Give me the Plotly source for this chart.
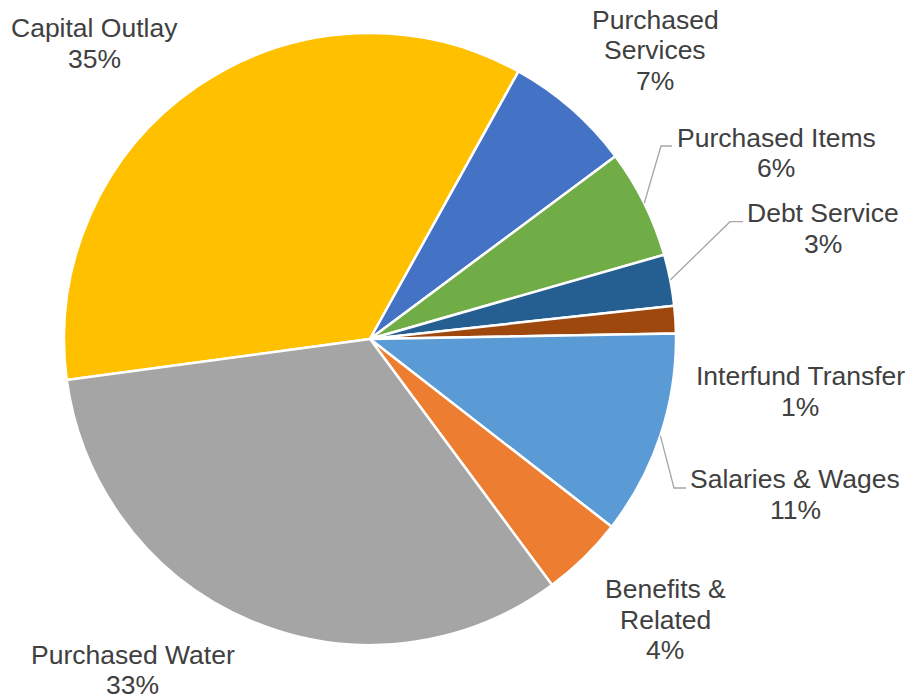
import math
import plotly.graph_objects as go

# ---- data ----
categories = ["Capital Outlay", "Purchased Services", "Purchased Items", "Debt Service",
              "Interfund Transfer", "Salaries & Wages", "Benefits & Related", "Purchased Water"]
values = [35.2, 6.75, 5.75, 2.7, 1.45, 10.8, 4.35, 33.0]
label_lines = [["Capital Outlay"], ["Purchased", "Services"], ["Purchased Items"], ["Debt Service"],
               ["Interfund Transfer"], ["Salaries & Wages"], ["Benefits &", "Related"], ["Purchased Water"]]
colors = ["#FFC000", "#4472C4", "#70AD47", "#255E91", "#9E480E", "#5B9BD5", "#ED7D31", "#A5A5A5"]

# ---- layout (pixels) ----
W, H = 911, 695
CX, CY, R = 370, 339, 306
START = 262.3
LINE_H = 30.7
FONT = "Liberation Sans, Arial, sans-serif"
TXT = "#404040"

label_pos = [(94.5, 28), (655, 19.7), (776, 137.5), (822.7, 213),
             (800.4, 376), (795, 479), (665, 589), (132.5, 654.5)]
# leader lines: index -> (elbow, end)
leaders = {2: ((661, 146), (672, 146)),
           3: ((730, 221.7), (743, 221.7)),
           5: ((674, 488), (686, 488))}


def px(x):
    return x / W


def py(y):
    return 1 - y / H


total = sum(values)
fig = go.Figure(go.Pie(
    labels=categories, values=values, sort=False, direction="clockwise",
    rotation=START, textinfo="none", hoverinfo="label+percent",
    marker=dict(colors=colors, line=dict(color="white", width=2.5)),
    domain=dict(x=[px(CX - R), px(CX + R)], y=[py(CY + R), py(CY - R)]),
    showlegend=False,
))

annotations = []
for i, (lines, (lx, ly)) in enumerate(zip(label_lines, label_pos)):
    pct = f"{round(values[i] / total * 100)}%"
    for k, t in enumerate(lines + [pct]):
        annotations.append(dict(
            x=px(lx), y=py(ly + k * LINE_H), xref="paper", yref="paper",
            text=t, showarrow=False, xanchor="center", yanchor="middle",
            font=dict(family=FONT, size=26.5, color=TXT)))

shapes = []
cum = 0.0
for i, v in enumerate(values):
    mid = START + (cum + v / 2) / total * 360
    cum += v
    if i in leaders:
        a = math.radians(mid)
        sx, sy = CX + R * math.sin(a), CY - R * math.cos(a)
        (ex, ey), (fx, fy) = leaders[i]
        path = f"M {px(sx)},{py(sy)} L {px(ex)},{py(ey)} L {px(fx)},{py(fy)}"
        shapes.append(dict(type="path", path=path, xref="paper", yref="paper",
                           line=dict(color="#A6A6A6", width=1.3)))

fig.update_layout(
    width=W, height=H, margin=dict(l=0, r=0, t=0, b=0),
    paper_bgcolor="white", plot_bgcolor="white",
    annotations=annotations, shapes=shapes,
)

fig.write_html("out.html", config={"displayModeBar": False},
               post_script="document.body.style.margin='0';document.body.style.overflow='hidden';")
